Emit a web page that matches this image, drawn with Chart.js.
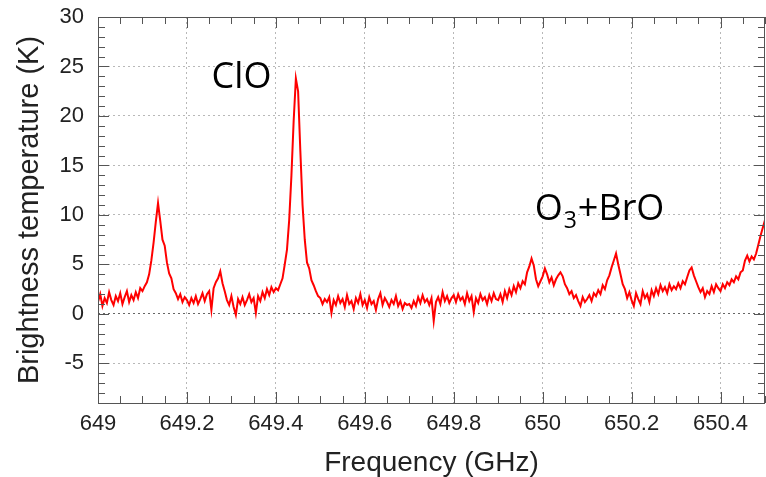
<!DOCTYPE html>
<html>
<head>
<meta charset="utf-8">
<script src="https://cdn.jsdelivr.net/npm/chart.js@4"></script>
<style>
  html, body { margin: 0; padding: 0; background: #fff; }
  canvas { display: block; }
</style>
</head>
<body>
<canvas id="chart" width="766" height="477"></canvas>
<script>
// spectrum channels: 649.000 GHz onwards, 5 MHz apart
const freqStart = 649.0
const freqStep = 0.005

// brightness temperature (K), one row per 0.1 GHz
const brightness = [
  1.2, 2.0, 0.8, 1.6, 1.1, 2.2, 1.4, 0.9, 1.8, 1.3, 2.1, 1.0, 1.7, 2.3, 1.2, 1.9, 1.4, 2.2, 1.6, 2.6,
  2.3, 2.8, 3.2, 4.0, 5.4, 7.2, 9.3, 11.2, 9.4, 7.5, 6.9, 5.2, 4.1, 3.6, 2.5, 2.1, 1.5, 2.0, 1.2, 1.7,
  1.4, 0.9, 1.6, 1.1, 1.8, 1.0, 1.5, 2.1, 1.3, 2.0, 2.3, 0.4, 2.6, 3.2, 3.6, 4.3, 3.1, 2.3, 1.4, 0.9,
  1.8, 0.7, -0.1, 1.5, 1.0, 1.7, 0.9, 1.4, 2.0, 1.2, 1.6, 0.1, 1.8, 1.3, 2.2, 1.6, 2.5, 1.9, 2.7, 2.2,
  2.6, 2.4, 3.0, 3.6, 5.0, 6.5, 9.5, 14.0, 19.5, 23.8, 22.5, 16.5, 11.0, 7.5, 5.2, 4.6, 3.4, 2.9, 2.3, 1.8,
  1.6, 1.0, 1.5, 1.2, 1.7, 0.1, 1.4, 0.9, 1.8, 1.1, 1.5, 0.7, 1.9, 1.0, 1.3, 0.5, 1.6, 1.1, 2.0, 0.9,
  1.4, 0.6, 1.7, 1.0, 1.3, 0.4, 1.5, 2.1, 0.9, 1.6, 1.2, 0.7, 1.4, 1.0, 1.8, 0.8, 1.3, 0.5, 1.1, 0.9,
  1.0, 0.6, 1.3, 0.8, 1.7, 1.1, 1.9, 1.2, 1.5, 0.9, 1.6, -0.7, 1.2, 1.7, 1.0, 2.2, 1.3, 1.8, 1.1, 1.6,
  1.9, 1.2, 2.0, 1.4, 1.7, 1.0, 2.1, 1.3, 1.8, 0.2, 1.6, 1.1, 2.0, 1.4, 1.7, 1.0, 1.9, 1.3, 2.1, 1.5,
  1.4, 2.0, 1.2, 2.3, 1.6, 2.5, 1.9, 2.8, 2.2, 3.1, 2.6, 3.3, 3.0, 4.2, 4.8, 5.6, 4.9, 3.5, 2.8, 3.3,
  3.8, 4.6, 4.0, 3.2, 3.7, 2.9, 3.5, 3.9, 4.2, 3.8, 3.0, 2.6, 2.0, 2.3, 1.6, 1.9, 1.3, 0.8, 1.7, 1.2,
  1.5, 1.9, 1.3, 2.1, 1.8, 2.4, 2.0, 2.9, 2.5, 3.4, 3.9, 4.7, 5.4, 6.1, 5.0, 4.0, 3.0, 2.5, 1.6, 2.2,
  1.4, 0.8, 2.1, 1.5, 1.0, 2.3, 1.6, 2.0, 1.2, 2.4, 1.8, 2.6, 2.0, 2.9, 2.3, 2.7, 2.1, 3.0, 2.4, 2.8,
  2.5, 3.1, 2.6, 3.3, 3.0, 3.7, 4.4, 4.7, 3.9, 3.3, 2.7, 2.2, 2.6, 1.7, 2.3, 2.0, 2.8, 2.2, 3.0, 2.6,
  2.3, 3.0, 2.6, 3.2, 2.9, 3.5, 3.2, 3.8, 3.5, 4.2, 4.4, 5.4, 5.9, 5.3, 5.8, 5.5, 6.1, 7.0, 7.9, 8.7,
  9.5
]

const xTickValues = [649, 649.2, 649.4, 649.6, 649.8, 650, 650.2, 650.4]
const yTickValues = [-5, 0, 5, 10, 15, 20, 25, 30]
const xMinorStep = 0.05
const yMinorStep = 1

const lineLabels = [
  { main: "ClO", sub: "", rest: "", x: 649.2555, y: 22.8 },
  { main: "O", sub: "3", rest: "+BrO", x: 649.982, y: 9.44 },
]

const points = brightness.map((t, i) => ({ x: freqStart + i * freqStep, y: t }))

const tickFont = { family: "'Liberation Sans', Arial, sans-serif", size: 22 }
const titleFamily = "'Liberation Sans', Arial, sans-serif"

const background = {
  id: "background",
  beforeDraw(chart) {
    const ctx = chart.ctx
    ctx.save()
    ctx.fillStyle = "#fff"
    ctx.fillRect(0, 0, chart.width, chart.height)
    ctx.restore()
  }
}

// frame with inward ticks on all four sides
const frame = {
  id: "frame",
  afterDatasetsDraw(chart) {
    const { ctx, chartArea: a, scales: { x, y } } = chart
    const crisp = v => Math.round(v) + 0.5
    ctx.save()
    ctx.strokeStyle = "#555"
    ctx.lineWidth = 1
    ctx.beginPath()
    const nx = Math.round((x.max - x.min) / xMinorStep)
    for (let i = 0; i <= nx; i++) {
      const px = crisp(x.getPixelForValue(x.min + i * xMinorStep))
      const len = i % 4 === 0 ? 11 : 7
      ctx.moveTo(px, a.bottom); ctx.lineTo(px, a.bottom - len)
      ctx.moveTo(px, a.top); ctx.lineTo(px, a.top + len)
    }
    for (let v = y.min; v <= y.max; v += yMinorStep) {
      const py = crisp(y.getPixelForValue(v))
      const len = v % 5 === 0 ? 11 : 7
      ctx.moveTo(a.left, py); ctx.lineTo(a.left + len, py)
      ctx.moveTo(a.right, py); ctx.lineTo(a.right - len, py)
    }
    ctx.stroke()
    ctx.strokeRect(crisp(a.left), crisp(a.top), Math.round(a.right - a.left) - 1, Math.round(a.bottom - a.top))
    ctx.restore()
  }
}

const annotations = {
  id: "annotations",
  afterDatasetsDraw(chart) {
    const { ctx, scales: { x, y } } = chart
    ctx.save()
    ctx.fillStyle = "#000"
    ctx.textBaseline = "alphabetic"
    ctx.textAlign = "left"
    lineLabels.forEach(l => {
      let px = x.getPixelForValue(l.x)
      const py = y.getPixelForValue(l.y)
      ctx.font = "36px 'Open Sans', sans-serif"
      ctx.fillText(l.main, px, py)
      px += ctx.measureText(l.main).width
      if (l.sub) {
        ctx.font = "23px 'Open Sans', sans-serif"
        ctx.fillText(l.sub, px + 1, py + 8)
        px += ctx.measureText(l.sub).width + 2
      }
      if (l.rest) {
        ctx.font = "36px 'Open Sans', sans-serif"
        ctx.fillText(l.rest, px, py)
      }
    })
    ctx.restore()
  }
}

const gridColor = c => (c.tick && c.tick.value === 0 ? "#666" : "#b8b8b8")

new Chart(document.getElementById("chart"), {
  type: "line",
  data: {
    datasets: [{
      data: points,
      borderColor: "#ff0000",
      borderWidth: 2,
      pointRadius: 0,
      tension: 0,
      fill: false,
    }]
  },
  options: {
    responsive: false,
    animation: false,
    layout: { padding: { top: 17, right: 1, left: 0, bottom: 0 } },
    plugins: { legend: { display: false }, tooltip: { enabled: false } },
    scales: {
      x: {
        type: "linear",
        min: 649,
        max: 650.5,
        afterBuildTicks: axis => { axis.ticks = xTickValues.map(v => ({ value: v })) },
        afterFit: scale => {
          scale.height = 74
          scale.paddingLeft = 0
          scale.paddingRight = 0
        },
        grid: { color: gridColor, drawTicks: false, tickLength: 0 },
        border: { display: false, dash: [2, 3] },
        ticks: {
          padding: 8,
          color: "#222",
          font: tickFont,
          maxRotation: 0,
          autoSkip: false,
          callback: v => String(Number(v.toFixed(1))),
        },
        title: {
          display: true,
          text: "Frequency (GHz)",
          color: "#222",
          font: { family: titleFamily, size: 28, lineHeight: 1.0 },
          padding: { top: 0, bottom: 0 },
        },
      },
      y: {
        type: "linear",
        min: -9,
        max: 30,
        afterBuildTicks: axis => { axis.ticks = yTickValues.map(v => ({ value: v })) },
        afterFit: scale => {
          scale.width = 98
          scale.paddingTop = 0
          scale.paddingBottom = 0
        },
        grid: { color: gridColor, drawTicks: false, tickLength: 0 },
        border: { display: false, dash: [2, 3] },
        ticks: { padding: 14, color: "#222", font: tickFont },
        title: {
          display: true,
          text: "Brightness temperature (K)",
          color: "#222",
          font: { family: titleFamily, size: 29, lineHeight: 1.2 },
          padding: { top: 13, bottom: 0 },
        },
      },
    },
  },
  plugins: [background, frame, annotations],
})
</script>
</body>
</html>
